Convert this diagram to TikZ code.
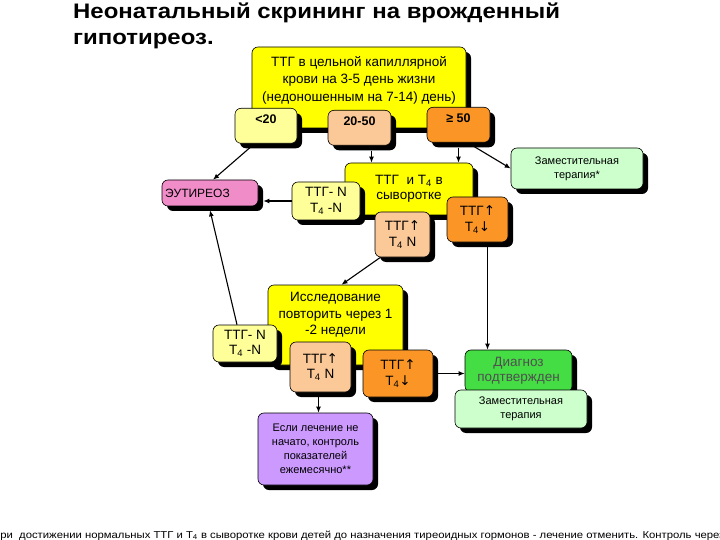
\documentclass[tikz,border=0pt]{standalone}
\usepackage{fontspec}
\setmainfont{Liberation Sans}
\newfontfamily\arrowfont{DejaVu Sans}
\usetikzlibrary{shadows,arrows.meta}
\definecolor{BoxYellow}{HTML}{FFFF00}
\definecolor{BoxPale}{HTML}{FFFF99}
\definecolor{BoxPeach}{HTML}{FBC898}
\definecolor{BoxOrange}{HTML}{FB9626}
\definecolor{BoxPink}{HTML}{F08CC8}
\definecolor{BoxMint}{HTML}{CCFFCC}
\definecolor{BoxGreen}{HTML}{44DD44}
\definecolor{BoxLilac}{HTML}{CC99FF}
\definecolor{TextGrey}{HTML}{505050}
\newcommand{\hup}{{\arrowfont ↑}}
\newcommand{\hdown}{{\arrowfont ↓}}

\begin{document}
\begin{tikzpicture}[
	x=1pt, y=-1pt, % one unit = one pixel, y runs down
	% Style for the rounded boxes with their black shadow
	box/.style={
		rectangle,
		rounded corners=6pt,
		draw=black,
		line width=0.6pt,
		drop shadow={shadow xshift=5pt, shadow yshift=-5pt, opacity=1, fill=black},
		inner sep=1pt,
		align=center,
		font=\fontsize{13.5}{15.5}\selectfont
	},
	% Box sizes (width, height)
	dims/.style 2 args={minimum width=#1pt, minimum height=#2pt},
	% Style for the three TSH cut-off boxes, text near the top
	cutoff/.style={
		box,
		anchor=north,
		inner ysep=0pt,
		text height=15pt,
		text depth=20pt,
		font=\bfseries\fontsize{12.5}{15}\selectfont
	},
	% Style for the arrows between boxes
	link/.style={
		draw=black,
		line width=1.1pt,
		-{Latex[length=6pt,width=5pt]}
	},
	small/.style={font=\fontsize{11}{14}\selectfont},
	heading/.style={anchor=base west, inner sep=0pt, font=\bfseries\fontsize{21}{25}\selectfont}
	]
	
	\useasboundingbox[fill=white] (0,0) rectangle (720,540);
	
	% 1. Title
	\node[heading] (Title1) at (73,19) {\scalebox{1.14}[1]{Неонатальный скрининг на врожденный}};
	\node[heading] (Title2) at (73,45) {\scalebox{1.14}[1]{гипотиреоз.}};
	
	% 2. Screening and cut-offs
	\node[box, fill=BoxYellow, dims={214}{81}] (Top) at (359,87.5) {};
	\node[font=\fontsize{13.5}{17.5}\selectfont, align=center] (TopText) at (359,80) {ТТГ в цельной капиллярной\\крови на 3-5 день жизни\\(недоношенным на 7-14) день)};
	\node[cutoff, fill=BoxPale, minimum width=62pt] (Low) at (266,108) {<20};
	\node[cutoff, fill=BoxPeach, minimum width=63pt] (Mid) at (359.5,110) {20-50};
	\node[cutoff, fill=BoxOrange, minimum width=63pt] (High) at (458.5,107) {≥ 50};
	
	% 3. First serum test
	\node[box, small, fill=BoxMint, dims={132}{41}] (Therapy1) at (577,168.5) {Заместительная\\терапия*};
	\node[box, fill=BoxPink, dims={96}{26}, text width=90pt, inner xsep=3pt, align=left, font=\fontsize{12}{14}\selectfont] (Eu) at (210,193) {ЭУТИРЕОЗ};
	\node[box, fill=BoxYellow, dims={128}{52}] (Serum) at (409,189) {ТТГ \ и T\textsubscript{4} в\\сыворотке};
	\node[box, fill=BoxPale, dims={68}{38}] (NormA) at (326,201) {ТТГ- N\\T\textsubscript{4} -N};
	\node[box, fill=BoxPeach, dims={55}{45}] (UpNa) at (402.5,234.5) {ТТГ\hup\\T\textsubscript{4} N};
	\node[box, fill=BoxOrange, dims={61}{45}] (UpDownA) at (477.5,219.5) {ТТГ\hup\\T\textsubscript{4}\hdown};
	
	% 4. Repeated test
	\node[box, fill=BoxYellow, dims={135}{80}] (Repeat) at (335.5,325) {};
	\node[font=\fontsize{13.5}{16.5}\selectfont, align=center] (RepeatText) at (335.5,315) {Исследование\\повторить через 1\\-2 недели};
	\node[box, fill=BoxPale, dims={64}{37}] (NormB) at (245,343.5) {ТТГ- N\\T\textsubscript{4} -N};
	\node[box, fill=BoxPeach, dims={61}{50}] (UpNb) at (320.5,367) {ТТГ\hup\\T\textsubscript{4} N};
	\node[box, fill=BoxOrange, dims={70}{47}] (UpDownB) at (398,373.5) {ТТГ\hup\\T\textsubscript{4}\hdown};
	
	% 5. Outcome boxes
	\node[box, fill=BoxGreen, text=TextGrey, dims={107}{42}] (Diag) at (518.5,371) {Диагноз\\подтвержден};
	\node[box, small, fill=BoxMint, dims={132}{38}] (Therapy2) at (521,409) {Заместительная\\терапия};
	\node[box, small, fill=BoxLilac, dims={115}{72}] (Watch) at (315.5,449) {Если лечение не\\начато, контроль\\показателей\\ежемесячно**};
	
	% 6. Arrows
	\draw[link] ([xshift=-16pt,yshift=-4pt]Low.south) -- ([xshift=3pt]Eu.north);
	\draw[link] ([xshift=12pt,yshift=-5pt]Mid.south) -- ([xshift=12pt]Mid.south |- Serum.north);
	\draw[link] ([yshift=-5pt]High.south) -- (High.south |- Serum.north);
	\draw[link] ([xshift=14pt,yshift=-3pt]High.south) -- (Therapy1.west);
	\draw[link] (NormA.west) -- ([xshift=5pt]NormA.west -| Eu.east);
	\draw[link] ([xshift=-22pt]UpNa.south) -- ([xshift=6pt]Repeat.north);
	\draw[link] ([xshift=10pt,yshift=-5pt]UpDownA.south) -- ([xshift=10pt]UpDownA.south |- Diag.north);
	\draw[link] ([xshift=-8pt]NormB.north) -- ([yshift=-4pt]Eu.south);
	\draw[link] ([xshift=5pt]UpDownB.east) -- (UpDownB.east -| Diag.west);
	\draw[link] ([xshift=-2pt,yshift=-4pt]UpNb.south) -- ([xshift=-2pt]UpNb.south |- Watch.north);
	
	% 7. Footnote, cut by the page edge
	\node[anchor=base west, inner sep=0pt, font=\fontsize{10}{12}\selectfont] (Note) at (-8,538) {\scalebox{1.13}[1]{При \ достижении нормальных ТТГ и T\textsubscript{4} в сыворотке крови детей до назначения тиреоидных гормонов - лечение отменить. Контроль через}};
	
\end{tikzpicture}
\end{document}
